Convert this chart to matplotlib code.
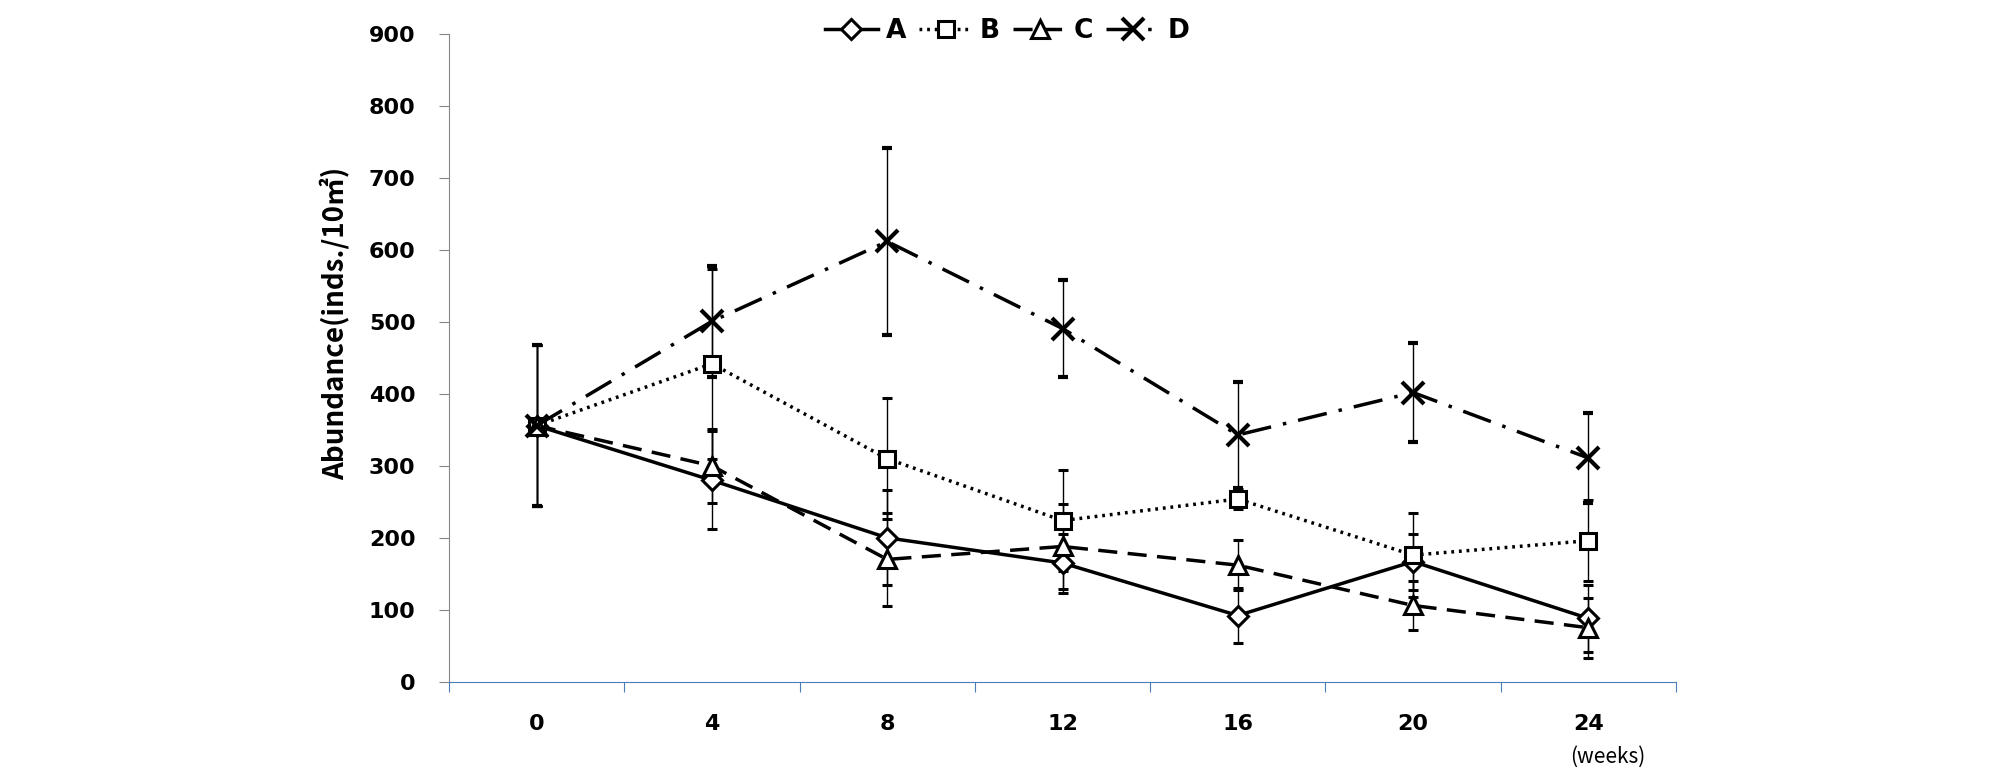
import numpy as np
import matplotlib.pyplot as plt

# data
weeks = ['0', '4', '8', '12', '16', '20', '24']
a_mean = [356, 280, 200, 165, 92, 167, 88]
a_err = [112, 68, 66, 41, 38, 39, 47]
b_mean = [356, 442, 310, 224, 254, 176, 196]
b_err = [112, 132, 84, 70, 14, 58, 56]
c_mean = [356, 300, 170, 188, 162, 106, 75]
c_err = [112, 51, 65, 59, 35, 34, 42]
d_mean = [356, 501, 612, 491, 343, 402, 311]
d_err = [112, 77, 130, 67, 74, 69, 62]
labels = ['A', 'B', 'C', 'D']

plt.rcParams['font.family'] = ['DejaVu Sans']

fig = plt.figure(figsize=(20.08, 7.8), dpi=100)
ax = fig.add_axes([449 / 2008, 1 - 681.7 / 780, 1227 / 2008, 647.4 / 780])

x = np.arange(len(weeks))
styles = [
    dict(ls='-', marker='D', ms=10, mfc='white'),
    dict(ls=(0, (0.8, 1.4)), marker='s', ms=11, mfc='white'),
    dict(ls=(0, (5.5, 3)), marker='^', ms=13, mfc='white'),
    dict(ls=(0, (8.5, 3.5, 1, 3.5)), marker='x', ms=16, mew=3),
]
series = [(a_mean, a_err), (b_mean, b_err), (c_mean, c_err), (d_mean, d_err)]

handles = []
for (m, e), st, lab in zip(series, styles, labels):
    mew = st.pop('mew', 2.2)
    cont = ax.errorbar(x, m, yerr=e, color='black', lw=2.5, mec='black',
                       mew=mew, elinewidth=1, ecolor='black', capsize=3.5,
                       capthick=0.8, label=lab, **st)
    handles.append(cont[0])

ax.set_xlim(-0.5, 6.5)
ax.set_ylim(0, 900)
ax.set_yticks(np.arange(0, 901, 100))
ax.set_xticks(np.arange(-0.5, 7, 1))
ax.set_xticklabels([])
ax.set_xticks(x, minor=True)
ax.set_xticklabels(weeks, minor=True)

ax.spines['top'].set_visible(False)
ax.spines['right'].set_visible(False)
ax.spines['left'].set_color('#868686')
ax.spines['bottom'].set_color('#4A7EBB')
ax.tick_params(axis='y', direction='out', length=7, color='#868686',
               labelsize=16, pad=17)
ax.tick_params(axis='x', which='major', direction='out', length=7,
               color='#4A7EBB')
ax.tick_params(axis='x', which='minor', length=0, labelsize=16, pad=23)
for t in ax.get_yticklabels() + ax.get_xticklabels(minor=True):
    t.set_fontweight('bold')

ax.set_ylabel('Abundance(inds./10㎡)', fontsize=20, fontweight='bold',
              family=['Noto Sans CJK KR', 'DejaVu Sans'])
ax.yaxis.set_label_coords(-0.0807, 0.554)

fig.text(1608 / 2008, 1 - 757 / 780, '(weeks)', fontsize=15,
         ha='center', va='center', family=['Noto Sans CJK KR', 'DejaVu Sans'])

fig.legend(handles, labels, loc='center', bbox_to_anchor=(1007 / 2008, 1 - 31 / 780),
           ncol=4, frameon=False, numpoints=1, handlelength=2.0,
           handletextpad=0.3, columnspacing=0.5,
           prop=dict(size=19, weight='bold'))

fig.savefig('out.png', dpi=100)
